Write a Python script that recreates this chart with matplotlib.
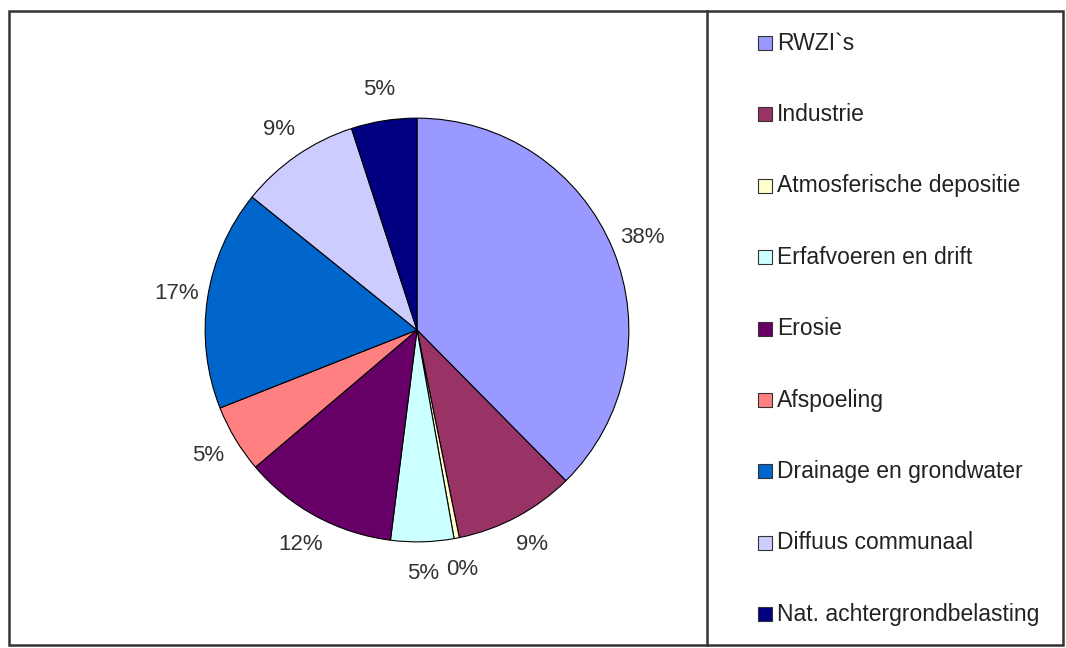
import matplotlib.pyplot as plt
from matplotlib.patches import Rectangle

plt.rcParams['font.family'] = ['Liberation Sans', 'DejaVu Sans']

labels = ['RWZI`s', 'Industrie', 'Atmosferische depositie', 'Erfafvoeren en drift',
          'Erosie', 'Afspoeling', 'Drainage en grondwater', 'Diffuus communaal',
          'Nat. achtergrondbelasting']
values = [37.6, 9.2, 0.4, 4.8, 11.8, 5.2, 16.8, 9.2, 5.0]
colors = ['#9999FF', '#993366', '#FFFFCC', '#CCFFFF', '#660066', '#FF8080',
          '#0066CC', '#CCCCFF', '#000080']

W, H = 1066, 648
fig = plt.figure(figsize=(W / 100, H / 100), dpi=100)

# frame + divider
frame = fig.add_axes([0, 0, 1, 1])
frame.set_xlim(0, W)
frame.set_ylim(H, 0)
frame.axis('off')
frame.add_patch(Rectangle((9, 11), 1054, 634, fill=False, edgecolor='#333333', lw=1.8))
frame.plot([707, 707], [11, 645], color='#333333', lw=1.8)

# pie, center (417, 330), radius ~212 px
cx, cy, half = 417, 330, 250
ax = fig.add_axes([(cx - half) / W, (H - cy - half) / H, 2 * half / W, 2 * half / H])
ax.pie(values, colors=colors, startangle=90, counterclock=False,
       autopct=lambda p: '%d%%' % round(p), pctdistance=1.15,
       wedgeprops=dict(edgecolor='black', linewidth=0.8),
       textprops=dict(fontsize=16, color='#333333'))
ax.set_xlim(-1.18, 1.18)
ax.set_ylim(-1.18, 1.18)
ax.set_aspect('equal')

# legend
for i, (lab, col) in enumerate(zip(labels, colors)):
    y = 43 + i * 71.4
    frame.add_patch(Rectangle((758, y - 7), 14, 14, facecolor=col, edgecolor='#333333', lw=0.8))
    frame.text(777, y, lab, fontsize=16.5, color='#222222', va='center', ha='left')

fig.savefig('out.png', dpi=100)
